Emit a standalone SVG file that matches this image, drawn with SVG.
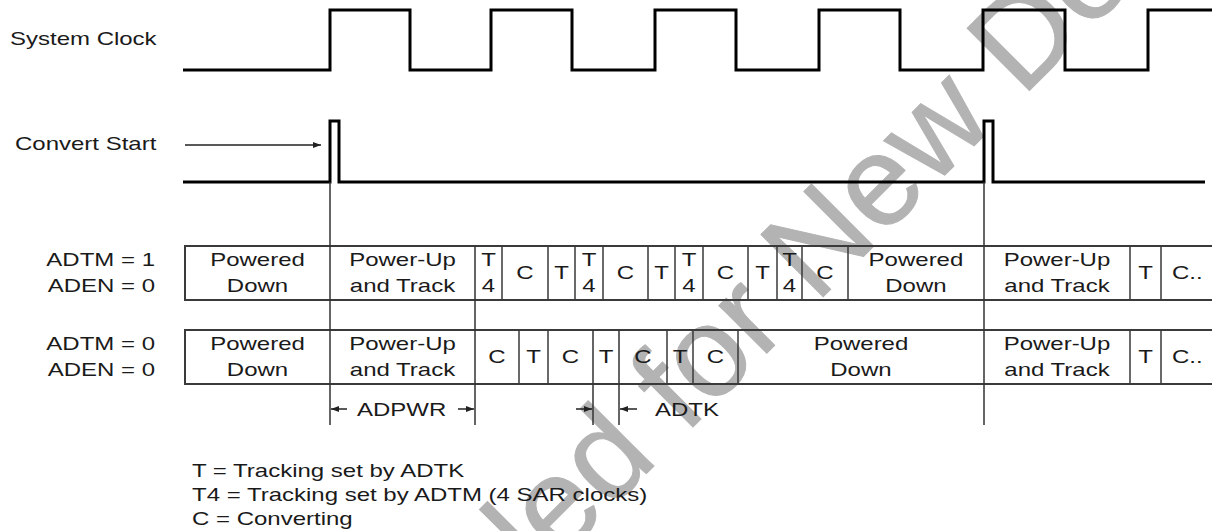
<svg xmlns="http://www.w3.org/2000/svg" width="1212" height="531" viewBox="0 0 1212 531">
<style>
.sig{fill:none;stroke:#000;stroke-width:3;stroke-linejoin:miter}
.box{fill:none;stroke:#3a3a3a;stroke-width:2}
.div{stroke:#3a3a3a;stroke-width:1.5}
.guide{stroke:#333;stroke-width:1.5}
.arr{stroke:#222;stroke-width:1.5;marker-end:url(#ah)}
.t{font-family:"Liberation Sans",Arial,sans-serif;font-size:18px;fill:#1a1a1a}
.m{text-anchor:middle}
.e{text-anchor:end}
.wm{font-family:"Liberation Sans",Arial,sans-serif;font-size:128px;fill:#b3b3b3;stroke:#b3b3b3;stroke-width:1}
</style>
<defs>
<marker id="ah" markerUnits="userSpaceOnUse" markerWidth="9" markerHeight="7" refX="8" refY="3" orient="auto">
<path d="M0,0 L8,3 L0,6 z" fill="#222"/>
</marker>
</defs>
<rect width="1212" height="531" fill="#fff"/>
<g id="watermark">
<text class="wm" transform="translate(-120,1240) rotate(-45)">Not Recommended for New Designs</text>
</g>
<g id="sysclk">
<path class="sig" d="M183,70 H330 V10 H410 V70 H491 V10 H572 V70 H655 V10 H736 V70 H819 V10 H900 V70 H983 V10 H1065 V70 H1148 V10 H1212"/>
</g>
<g id="convstart">
<path class="sig" d="M183,182 H330 V121 H339 V182 H984 V121 H993 V182 H1205"/>
</g>
<g id="row-adtm1">
<path class="box" d="M1212,246 H185 V300 H1212"/>
<path class="div" d="M502,246 V300 M548,246 V300 M575,246 V300 M603,246 V300 M648,246 V300 M675,246 V300 M703,246 V300 M748,246 V300 M777,246 V300 M802,246 V300 M848,246 V300 M1130,246 V300 M1161,246 V300"/>
</g>
<g id="row-adtm0">
<path class="box" d="M1212,330 H185 V384 H1212"/>
<path class="div" d="M519,330 V384 M548,330 V384 M667,330 V384 M693,330 V384 M738,330 V384 M1130,330 V384 M1161,330 V384"/>
</g>
<g id="connectors">
<path class="guide" d="M330,182 V425 M984,182 V425 M475,246 V425 M593,330 V425 M619,330 V425"/>
<line class="arr" x1="185" y1="145" x2="321" y2="145"/>
<line class="arr" x1="347" y1="409" x2="331" y2="409"/>
<line class="arr" x1="458" y1="409" x2="474" y2="409"/>
<line class="arr" x1="576" y1="409" x2="592" y2="409"/>
<line class="arr" x1="637" y1="409" x2="620" y2="409"/>
</g>
<g id="labels" transform="scale(1.3333,1)">
<text class="t" x="7.5" y="45">System Clock</text>
<text class="t" x="11.25" y="150">Convert Start</text>
<text class="t e" x="116.25" y="266">ADTM = 1</text>
<text class="t e" x="116.25" y="292">ADEN = 0</text>
<text class="t e" x="116.25" y="350">ADTM = 0</text>
<text class="t e" x="116.25" y="376">ADEN = 0</text>
<g id="cells-adtm1">
<text class="t m" x="193.125" y="266">Powered</text>
<text class="t m" x="193.125" y="292">Down</text>
<text class="t m" x="301.875" y="266">Power-Up</text>
<text class="t m" x="301.875" y="292">and Track</text>
<text class="t m" x="366.375" y="266">T</text><text class="t m" x="366.375" y="292">4</text>
<text class="t m" x="393.75" y="279">C</text>
<text class="t m" x="421.125" y="279">T</text>
<text class="t m" x="441.75" y="266">T</text><text class="t m" x="441.75" y="292">4</text>
<text class="t m" x="469.125" y="279">C</text>
<text class="t m" x="496.125" y="279">T</text>
<text class="t m" x="516.75" y="266">T</text><text class="t m" x="516.75" y="292">4</text>
<text class="t m" x="544.125" y="279">C</text>
<text class="t m" x="571.875" y="279">T</text>
<text class="t m" x="592.125" y="266">T</text><text class="t m" x="592.125" y="292">4</text>
<text class="t m" x="618.75" y="279">C</text>
<text class="t m" x="687" y="266">Powered</text>
<text class="t m" x="687" y="292">Down</text>
<text class="t m" x="792.75" y="266">Power-Up</text>
<text class="t m" x="792.75" y="292">and Track</text>
<text class="t m" x="859.125" y="279">T</text>
<text class="t" x="879" y="279">C..</text>
</g>
<g id="cells-adtm0">
<text class="t m" x="193.125" y="350">Powered</text>
<text class="t m" x="193.125" y="376">Down</text>
<text class="t m" x="301.875" y="350">Power-Up</text>
<text class="t m" x="301.875" y="376">and Track</text>
<text class="t m" x="372.75" y="363">C</text>
<text class="t m" x="400.125" y="363">T</text>
<text class="t m" x="427.875" y="363">C</text>
<text class="t m" x="454.5" y="363">T</text>
<text class="t m" x="482.25" y="363">C</text>
<text class="t m" x="510" y="363">T</text>
<text class="t m" x="536.625" y="363">C</text>
<text class="t m" x="645.75" y="350">Powered</text>
<text class="t m" x="645.75" y="376">Down</text>
<text class="t m" x="792.75" y="350">Power-Up</text>
<text class="t m" x="792.75" y="376">and Track</text>
<text class="t m" x="859.125" y="363">T</text>
<text class="t" x="879" y="363">C..</text>
</g>
<text class="t" x="267.75" y="416">ADPWR</text>
<text class="t" x="491.25" y="416">ADTK</text>
<g id="legend">
<text class="t" x="144" y="477">T = Tracking set by ADTK</text>
<text class="t" x="144" y="501">T4 = Tracking set by ADTM (4 SAR clocks)</text>
<text class="t" x="144" y="525">C = Converting</text>
</g>
</g>
</svg>
